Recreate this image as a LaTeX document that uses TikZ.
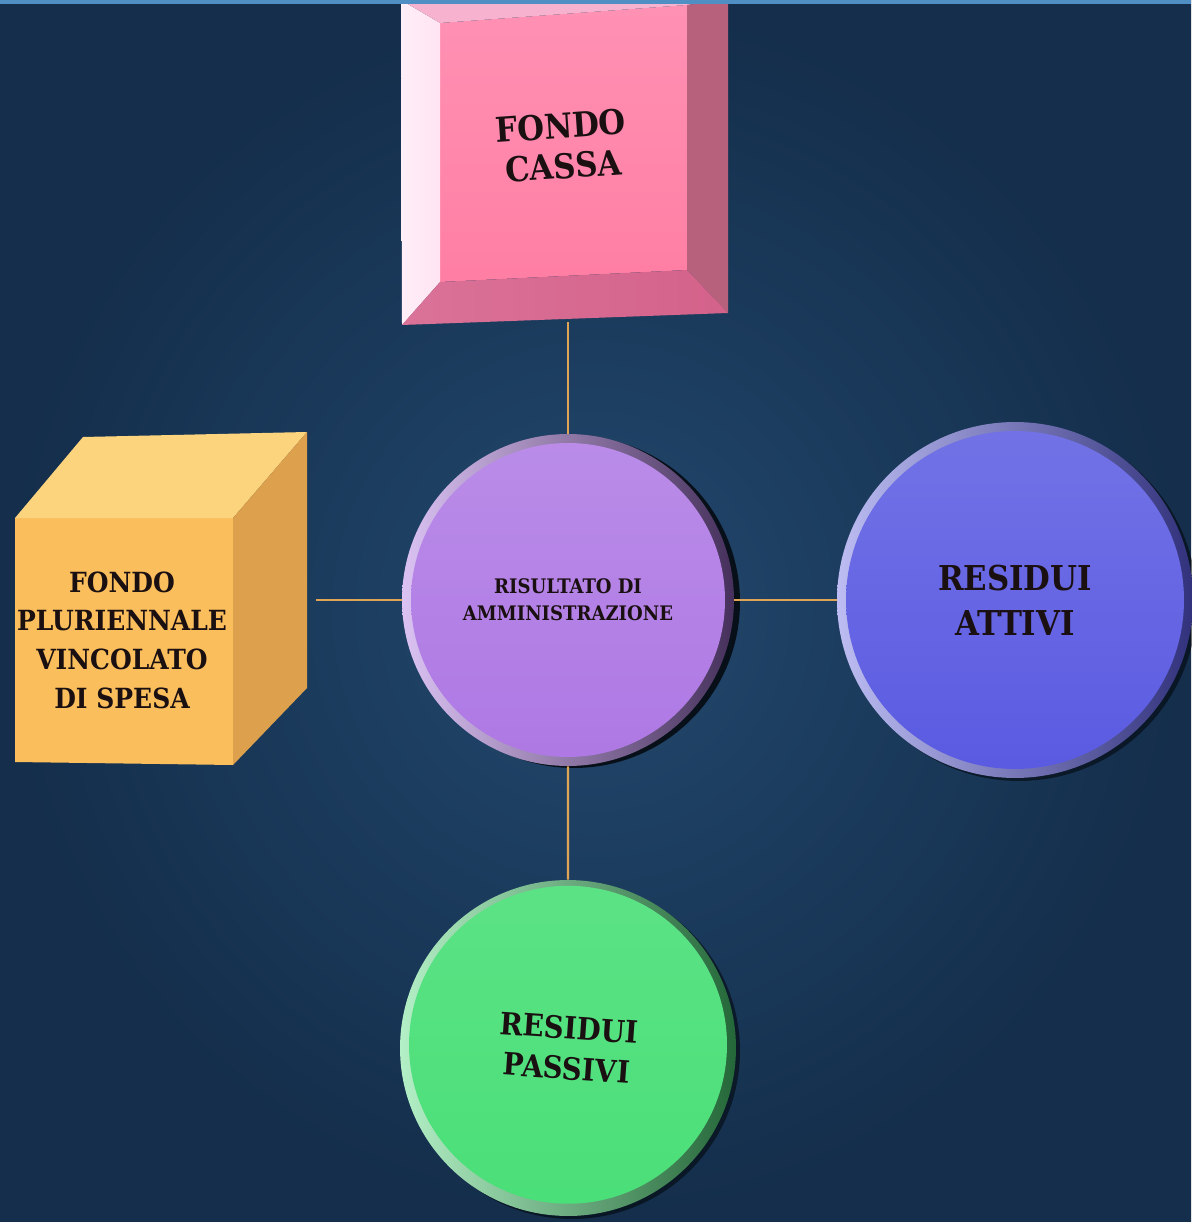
\documentclass[tikz,border=0pt]{standalone}
\usepackage{fontspec}
\usepackage{xcolor}
\usetikzlibrary{calc, positioning}
\newfontfamily\slab{DejaVu Serif Condensed}

\definecolor{bgin}{HTML}{22486E}
\definecolor{bgout}{HTML}{142E4B}
\definecolor{strip}{HTML}{4F8FC4}
\definecolor{ink}{HTML}{1A1012}
\definecolor{link}{HTML}{E0A455}
\definecolor{pinkface}{HTML}{FF85AC}
\definecolor{pinklt}{HTML}{FFE4F2}
\definecolor{pinktop}{HTML}{F6B2CE}
\definecolor{pinkrt}{HTML}{B7617D}
\definecolor{pinkbt}{HTML}{D4628A}
\definecolor{cubefr}{HTML}{FBBE5C}
\definecolor{cubetp}{HTML}{FDD47E}
\definecolor{cubert}{HTML}{DDA04C}
\definecolor{purp}{HTML}{AE78E4}
\definecolor{blu}{HTML}{5A5AE2}
\definecolor{grn}{HTML}{4ADF78}

\begin{document}
\begin{tikzpicture}[
    x=0.02cm, y=-0.02cm,
    disc/.style={circle, inner sep=0pt, align=center, text=ink},
    lbl/.style={align=center, text=ink, inner sep=0pt},
    hold/.style={rectangle, inner sep=0pt},
    link/.style={draw=link, line width=1.2pt},
    shadow/.style={fill=black, opacity=.5},
]
% sfondo
\shade[inner color=bgin, outer color=bgout] (0,0) rectangle (1191,1222);
\useasboundingbox (0,0) rectangle (1191,1222);

% fondo cassa (riquadro smussato)
\coordinate (oTL) at (401,0);   \coordinate (oTR) at (728,0);
\coordinate (oBR) at (728,313); \coordinate (oBL) at (402,325);
\coordinate (iTL) at (440,23);  \coordinate (iTR) at (687,5);
\coordinate (iBR) at (687,270); \coordinate (iBL) at (440,282);
\shade[top color=pinkface!90!white, bottom color=pinkface!95!red] (iTL) -- (iTR) -- (iBR) -- (iBL) -- cycle;
\shade[left color=pinklt!60!white, right color=pinklt] (oTL) -- (iTL) -- (iBL) -- (oBL) -- cycle;
\fill[pinktop] (oTL) -- (oTR) -- (iTR) -- (iTL) -- cycle;
\fill[pinkrt] (oTR) -- (oBR) -- (iBR) -- (iTR) -- cycle;
\shade[left color=pinkbt!80!pinktop, right color=pinkbt] (oBL) -- (iBL) -- (iBR) -- (oBR) -- cycle;
\node[hold, minimum width=6.54cm, minimum height=6.4cm] (cassa) at (568,162) {};
\node[lbl, rotate=4, font=\slab\bfseries\fontsize{19.5}{23}\selectfont] (cassaT) at (562,146) {FONDO\\CASSA};

% fondo pluriennale (cubo)
\fill[cubefr] (15,518) -- (233,518) -- (233,765) -- (15,762) -- cycle;
\fill[cubetp] (15,518) -- (83,437) -- (307,432) -- (233,518) -- cycle;
\fill[cubert] (233,518) -- (307,432) -- (307,688) -- (233,765) -- cycle;
\node[hold, minimum width=5.84cm, minimum height=6.6cm, outer sep=0.18cm] (fpv) at (161,600) {};
\node[lbl, font=\slab\bfseries\fontsize{15.8}{22}\selectfont] (fpvT) at (122,640)
    {FONDO\\PLURIENNALE\\VINCOLATO\\DI SPESA};

% ombre dei dischi
\fill[shadow, opacity=.75] (574,602) circle (3.32cm);
\fill[shadow] (1019,603) circle (3.56cm);
\fill[shadow] (572,1051) circle (3.36cm);

% dischi
\node[disc, minimum size=6.64cm, left color=purp!45!white, right color=purp!40!black,
      path picture={\shade[top color=purp!85!white, bottom color=purp]
      (path picture bounding box.center) circle (3.14cm);},
      font=\slab\bfseries\fontsize{11.4}{15.3}\selectfont] (ris) at (568,600)
    {RISULTATO DI\\AMMINISTRAZIONE};
\node[disc, minimum size=7.12cm, left color=blu!40!white, right color=blu!55!black,
      path picture={\shade[top color=blu!85!white, bottom color=blu]
      (path picture bounding box.center) circle (3.38cm);},
      font=\slab\bfseries\fontsize{19.5}{25.5}\selectfont] (att) at (1015,600)
    {RESIDUI\\ATTIVI};
\node[disc, minimum size=6.72cm, rotate=-4, left color=grn!40!white, right color=grn!45!black,
      path picture={\shade[top color=grn!90!white, bottom color=grn]
      (path picture bounding box.center) circle (3.18cm);},
      font=\slab\bfseries\fontsize{17.5}{23}\selectfont] (pas) at (568,1048)
    {RESIDUI\\PASSIVI};

% collegamenti
\draw[link] (cassa) -- (ris);
\draw[link] (fpv) -- (ris);
\draw[link] (ris) -- (att);
\draw[link] (ris) -- (pas);

% fascia superiore
\fill[strip] (0,0) rectangle (1191,4);
\end{tikzpicture}
\end{document}
